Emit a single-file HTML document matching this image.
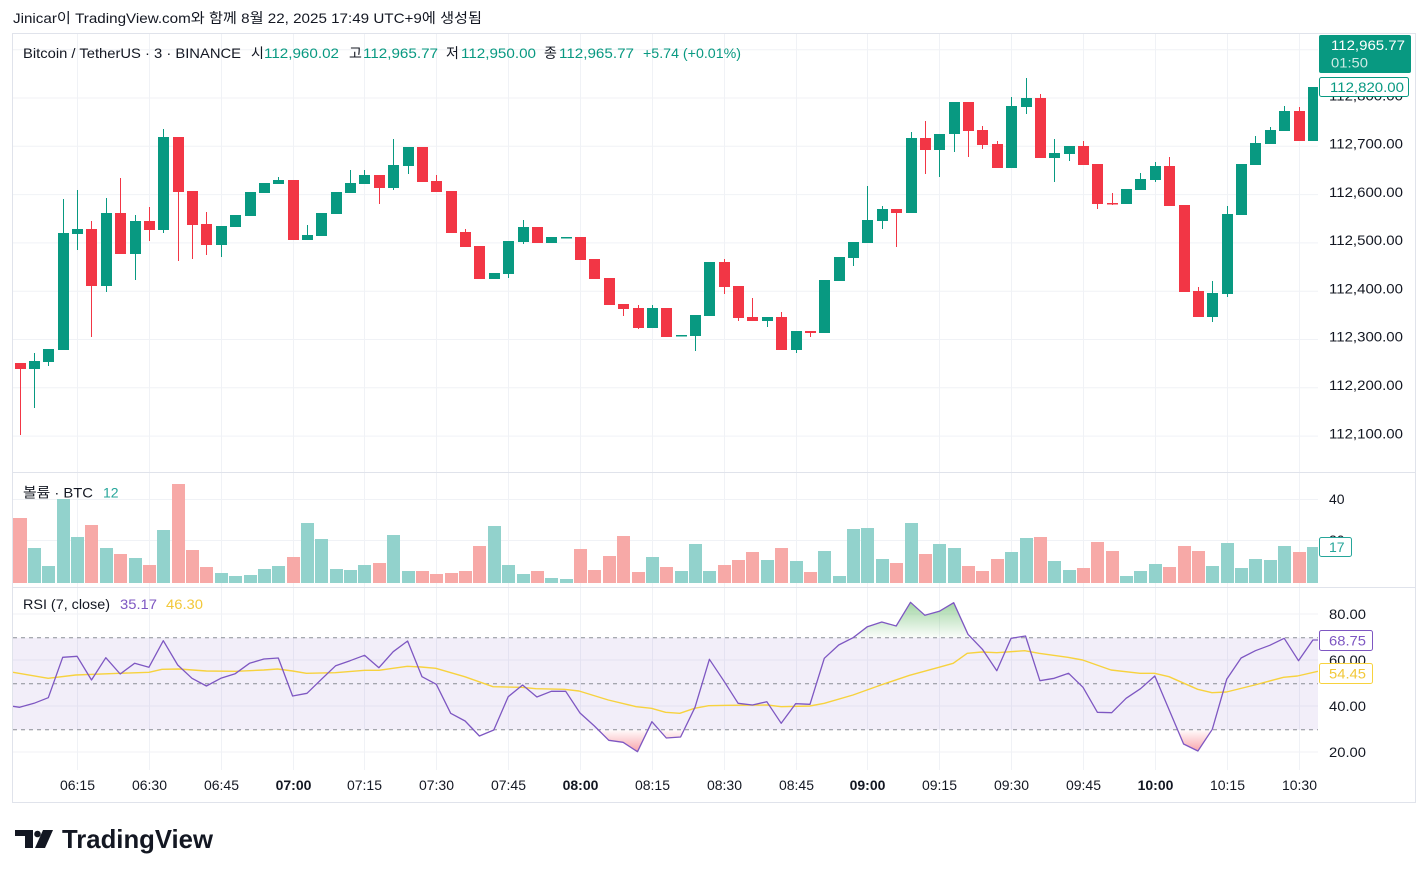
<!DOCTYPE html>
<html><head><meta charset="utf-8">
<style>
body{margin:0;background:#fff}
svg{display:block}
text{font-family:"Liberation Sans","Noto Sans CJK KR",sans-serif;font-size:14px;fill:#131722}
</style></head><body>
<svg width="1428" height="878" viewBox="0 0 1428 878" xmlns="http://www.w3.org/2000/svg">
<defs>
<clipPath id="cm"><rect x="13" y="34" width="1305" height="438"/></clipPath>
<clipPath id="cv"><rect x="13" y="473" width="1305" height="114"/></clipPath>
<clipPath id="cr"><rect x="13" y="588" width="1305" height="182"/></clipPath>
<clipPath id="cob"><rect x="13" y="588" width="1305" height="49.7"/></clipPath>
<clipPath id="cos"><rect x="13" y="729.7" width="1305" height="40"/></clipPath>
<linearGradient id="gg" x1="0" y1="600" x2="0" y2="638" gradientUnits="userSpaceOnUse">
<stop offset="0" stop-color="#4caf50" stop-opacity="0.55"/><stop offset="1" stop-color="#4caf50" stop-opacity="0.02"/></linearGradient>
<linearGradient id="gr" x1="0" y1="730" x2="0" y2="754" gradientUnits="userSpaceOnUse">
<stop offset="0" stop-color="#f23645" stop-opacity="0.02"/><stop offset="1" stop-color="#f23645" stop-opacity="0.5"/></linearGradient>
</defs>
<rect width="1428" height="878" fill="#fff"/>

<text x="13" y="23" textLength="469" lengthAdjust="spacingAndGlyphs">Jinicar이 TradingView.com와 함께 8월 22, 2025 17:49 UTC+9에 생성됨</text>

<!-- grid -->
<path fill="none" stroke="#f0f2f6" stroke-width="1" d="M77.5 34V770M149.5 34V770M221.5 34V770M293.5 34V770M364.5 34V770M436.5 34V770M508.5 34V770M580.5 34V770M652.5 34V770M724.5 34V770M796.5 34V770M867.5 34V770M939.5 34V770M1011.5 34V770M1083.5 34V770M1155.5 34V770M1227.5 34V770M1299.5 34V770
M13 49.7H1318M13 98H1318M13 146.3H1318M13 194.6H1318M13 242.9H1318M13 291.2H1318M13 339.5H1318M13 387.8H1318M13 436.1H1318
M13 499.5H1318M13 540.5H1318M13 614H1318M13 660H1318M13 706H1318M13 752H1318"/>

<!-- separators & border -->
<path fill="none" stroke="#e0e3eb" d="M13 472.5H1416M13 587.5H1416"/>
<rect x="12.5" y="33.5" width="1403" height="769" fill="none" stroke="#e0e3eb"/>

<!-- candles -->
<g clip-path="url(#cm)">
<g fill="#089981">
<rect x="34" y="353" width="1" height="55"/><rect x="29" y="361" width="11" height="8"/>
<rect x="48" y="349" width="1" height="17"/><rect x="43" y="349" width="11" height="13"/>
<rect x="63" y="199" width="1" height="151"/><rect x="58" y="233" width="11" height="117"/>
<rect x="77" y="190" width="1" height="60"/><rect x="72" y="229" width="11" height="5"/>
<rect x="106" y="198" width="1" height="94"/><rect x="101" y="213" width="11" height="73"/>
<rect x="135" y="215" width="1" height="65"/><rect x="130" y="221" width="11" height="33"/>
<rect x="163" y="129" width="1" height="104"/><rect x="158" y="137" width="11" height="93"/>
<rect x="221" y="226" width="1" height="31"/><rect x="216" y="226" width="11" height="19"/>
<rect x="230" y="215" width="11" height="12"/>
<rect x="245" y="192" width="11" height="24"/>
<rect x="259" y="183" width="11" height="10"/>
<rect x="278" y="177" width="1" height="7"/><rect x="273" y="180" width="11" height="4"/>
<rect x="307" y="225" width="1" height="15"/><rect x="302" y="235" width="11" height="5"/>
<rect x="316" y="213" width="11" height="23"/>
<rect x="331" y="192" width="11" height="22"/>
<rect x="350" y="170" width="1" height="23"/><rect x="345" y="183" width="11" height="10"/>
<rect x="364" y="170" width="1" height="14"/><rect x="359" y="175" width="11" height="9"/>
<rect x="393" y="139" width="1" height="51"/><rect x="388" y="165" width="11" height="23"/>
<rect x="408" y="147" width="1" height="27"/><rect x="403" y="147" width="11" height="19"/>
<rect x="489" y="273" width="11" height="6"/>
<rect x="508" y="241" width="1" height="37"/><rect x="503" y="241" width="11" height="33"/>
<rect x="523" y="220" width="1" height="24"/><rect x="518" y="227" width="11" height="15"/>
<rect x="546" y="237" width="11" height="6"/>
<rect x="561" y="237" width="11" height="1.5"/>
<rect x="652" y="305" width="1" height="23"/><rect x="647" y="308" width="11" height="20"/>
<rect x="676" y="335" width="11" height="1.5"/>
<rect x="695" y="315" width="1" height="36"/><rect x="690" y="315" width="11" height="21"/>
<rect x="704" y="262" width="11" height="54"/>
<rect x="767" y="317" width="1" height="10"/><rect x="762" y="317" width="11" height="4"/>
<rect x="796" y="331" width="1" height="22"/><rect x="791" y="331" width="11" height="19"/>
<rect x="819" y="280" width="11" height="53"/>
<rect x="834" y="257" width="11" height="24"/>
<rect x="853" y="242" width="1" height="24"/><rect x="848" y="242" width="11" height="16"/>
<rect x="867" y="186" width="1" height="57"/><rect x="862" y="220" width="11" height="23"/>
<rect x="882" y="206" width="1" height="23"/><rect x="877" y="209" width="11" height="12"/>
<rect x="911" y="132" width="1" height="81"/><rect x="906" y="138" width="11" height="75"/>
<rect x="939" y="134" width="1" height="43"/><rect x="934" y="134" width="11" height="16"/>
<rect x="954" y="102" width="1" height="50"/><rect x="949" y="102" width="11" height="32"/>
<rect x="1011" y="97" width="1" height="71"/><rect x="1006" y="106" width="11" height="62"/>
<rect x="1026" y="78" width="1" height="36"/><rect x="1021" y="98" width="11" height="9"/>
<rect x="1054" y="139" width="1" height="43"/><rect x="1049" y="153" width="11" height="5"/>
<rect x="1069" y="146" width="1" height="15"/><rect x="1064" y="146" width="11" height="8"/>
<rect x="1121" y="189" width="11" height="15"/>
<rect x="1140" y="173" width="1" height="17"/><rect x="1135" y="179" width="11" height="11"/>
<rect x="1155" y="162" width="1" height="20"/><rect x="1150" y="166" width="11" height="14"/>
<rect x="1212" y="281" width="1" height="41"/><rect x="1207" y="293" width="11" height="24"/>
<rect x="1227" y="206" width="1" height="91"/><rect x="1222" y="214" width="11" height="80"/>
<rect x="1236" y="164" width="11" height="51"/>
<rect x="1255" y="136" width="1" height="29"/><rect x="1250" y="143" width="11" height="22"/>
<rect x="1270" y="127" width="1" height="17"/><rect x="1265" y="130" width="11" height="14"/>
<rect x="1284" y="106" width="1" height="25"/><rect x="1279" y="111" width="11" height="20"/>
<rect x="1308" y="87" width="11" height="54"/>
</g>
<g fill="#f23645">
<rect x="20" y="363" width="1" height="72"/><rect x="15" y="363" width="11" height="6"/>
<rect x="91" y="221" width="1" height="116"/><rect x="86" y="229" width="11" height="57"/>
<rect x="120" y="178" width="1" height="76"/><rect x="115" y="213" width="11" height="41"/>
<rect x="149" y="207" width="1" height="34"/><rect x="144" y="221" width="11" height="9"/>
<rect x="178" y="137" width="1" height="124"/><rect x="173" y="137" width="11" height="55"/>
<rect x="192" y="191" width="1" height="68"/><rect x="187" y="191" width="11" height="34"/>
<rect x="206" y="212" width="1" height="43"/><rect x="201" y="224" width="11" height="21"/>
<rect x="288" y="180" width="11" height="60"/>
<rect x="379" y="175" width="1" height="29"/><rect x="374" y="175" width="11" height="13"/>
<rect x="417" y="147" width="11" height="35"/>
<rect x="436" y="175" width="1" height="17"/><rect x="431" y="181" width="11" height="11"/>
<rect x="446" y="191" width="11" height="42"/>
<rect x="465" y="229" width="1" height="18"/><rect x="460" y="232" width="11" height="15"/>
<rect x="474" y="246" width="11" height="33"/>
<rect x="532" y="227" width="11" height="16"/>
<rect x="575" y="237" width="11" height="23"/>
<rect x="589" y="259" width="11" height="20"/>
<rect x="604" y="278" width="11" height="27"/>
<rect x="623" y="304" width="1" height="12"/><rect x="618" y="304" width="11" height="5"/>
<rect x="638" y="305" width="1" height="24"/><rect x="633" y="308" width="11" height="20"/>
<rect x="661" y="308" width="11" height="29"/>
<rect x="724" y="259" width="1" height="35"/><rect x="719" y="262" width="11" height="25"/>
<rect x="738" y="286" width="1" height="35"/><rect x="733" y="286" width="11" height="32"/>
<rect x="752" y="298" width="1" height="23"/><rect x="747" y="317" width="11" height="4"/>
<rect x="781" y="312" width="1" height="38"/><rect x="776" y="317" width="11" height="33"/>
<rect x="810" y="331" width="1" height="6"/><rect x="805" y="331" width="11" height="2"/>
<rect x="896" y="209" width="1" height="38"/><rect x="891" y="209" width="11" height="4"/>
<rect x="925" y="121" width="1" height="53"/><rect x="920" y="138" width="11" height="12"/>
<rect x="968" y="102" width="1" height="55"/><rect x="963" y="102" width="11" height="29"/>
<rect x="982" y="126" width="1" height="23"/><rect x="977" y="130" width="11" height="15"/>
<rect x="997" y="141" width="1" height="27"/><rect x="992" y="144" width="11" height="24"/>
<rect x="1040" y="94" width="1" height="64"/><rect x="1035" y="98" width="11" height="60"/>
<rect x="1083" y="141" width="1" height="24"/><rect x="1078" y="146" width="11" height="19"/>
<rect x="1097" y="164" width="1" height="45"/><rect x="1092" y="164" width="11" height="40"/>
<rect x="1112" y="193" width="1" height="12"/><rect x="1107" y="203" width="11" height="1.5"/>
<rect x="1169" y="157" width="1" height="49"/><rect x="1164" y="166" width="11" height="40"/>
<rect x="1179" y="205" width="11" height="87"/>
<rect x="1198" y="287" width="1" height="30"/><rect x="1193" y="291" width="11" height="26"/>
<rect x="1299" y="107" width="1" height="34"/><rect x="1294" y="111" width="11" height="30"/>
</g>
</g>

<!-- volume -->
<g clip-path="url(#cv)">
<g fill="#92d2cc">
<rect x="28" y="548" width="13" height="35"/><rect x="42" y="566" width="13" height="17"/><rect x="57" y="499" width="13" height="84"/><rect x="71" y="537" width="13" height="46"/><rect x="100" y="548" width="13" height="35"/><rect x="129" y="558" width="13" height="25"/><rect x="157" y="530" width="13" height="53"/><rect x="215" y="573" width="13" height="10"/><rect x="229" y="576" width="13" height="7"/><rect x="244" y="575" width="13" height="8"/><rect x="258" y="569" width="13" height="14"/><rect x="272" y="566" width="13" height="17"/><rect x="301" y="523" width="13" height="60"/><rect x="315" y="539" width="13" height="44"/><rect x="330" y="569" width="13" height="14"/><rect x="344" y="570" width="13" height="13"/><rect x="358" y="565" width="13" height="18"/><rect x="387" y="535" width="13" height="48"/><rect x="402" y="571" width="13" height="12"/><rect x="488" y="526" width="13" height="57"/><rect x="502" y="565" width="13" height="18"/><rect x="517" y="574" width="13" height="9"/><rect x="545" y="578" width="13" height="5"/><rect x="560" y="579" width="13" height="4"/><rect x="646" y="557" width="13" height="26"/><rect x="675" y="571" width="13" height="12"/><rect x="689" y="544" width="13" height="39"/><rect x="703" y="571" width="13" height="12"/><rect x="761" y="560" width="13" height="23"/><rect x="790" y="561" width="13" height="22"/><rect x="818" y="551" width="13" height="32"/><rect x="833" y="576" width="13" height="7"/><rect x="847" y="529" width="13" height="54"/><rect x="861" y="528" width="13" height="55"/><rect x="876" y="559" width="13" height="24"/><rect x="905" y="523" width="13" height="60"/><rect x="933" y="544" width="13" height="39"/><rect x="948" y="548" width="13" height="35"/><rect x="1005" y="552" width="13" height="31"/><rect x="1020" y="538" width="13" height="45"/><rect x="1048" y="561" width="13" height="22"/><rect x="1063" y="570" width="13" height="13"/><rect x="1120" y="576" width="13" height="7"/><rect x="1134" y="571" width="13" height="12"/><rect x="1149" y="564" width="13" height="19"/><rect x="1206" y="566" width="13" height="17"/><rect x="1221" y="543" width="13" height="40"/><rect x="1235" y="568" width="13" height="15"/><rect x="1249" y="559" width="13" height="24"/><rect x="1264" y="560" width="13" height="23"/><rect x="1278" y="546" width="13" height="37"/><rect x="1307" y="547" width="13" height="36"/>
</g>
<g fill="#f7a9a7">
<rect x="13" y="518" width="14" height="65"/><rect x="85" y="525" width="13" height="58"/><rect x="114" y="554" width="13" height="29"/><rect x="143" y="565" width="13" height="18"/><rect x="172" y="484" width="13" height="99"/><rect x="186" y="550" width="13" height="33"/><rect x="200" y="567" width="13" height="16"/><rect x="287" y="557" width="13" height="26"/><rect x="373" y="563" width="13" height="20"/><rect x="416" y="571" width="13" height="12"/><rect x="430" y="574" width="13" height="9"/><rect x="445" y="573" width="13" height="10"/><rect x="459" y="571" width="13" height="12"/><rect x="473" y="546" width="13" height="37"/><rect x="531" y="571" width="13" height="12"/><rect x="574" y="549" width="13" height="34"/><rect x="588" y="570" width="13" height="13"/><rect x="603" y="556" width="13" height="27"/><rect x="617" y="536" width="13" height="47"/><rect x="632" y="572" width="13" height="11"/><rect x="660" y="567" width="13" height="16"/><rect x="718" y="565" width="13" height="18"/><rect x="732" y="560" width="13" height="23"/><rect x="746" y="552" width="13" height="31"/><rect x="775" y="548" width="13" height="35"/><rect x="804" y="572" width="13" height="11"/><rect x="890" y="563" width="13" height="20"/><rect x="919" y="554" width="13" height="29"/><rect x="962" y="566" width="13" height="17"/><rect x="976" y="571" width="13" height="12"/><rect x="991" y="559" width="13" height="24"/><rect x="1034" y="537" width="13" height="46"/><rect x="1077" y="568" width="13" height="15"/><rect x="1091" y="542" width="13" height="41"/><rect x="1106" y="551" width="13" height="32"/><rect x="1163" y="567" width="13" height="16"/><rect x="1178" y="546" width="13" height="37"/><rect x="1192" y="551" width="13" height="32"/><rect x="1293" y="552" width="13" height="31"/>
</g>
</g>

<!-- RSI -->
<g clip-path="url(#cr)">
<rect x="13" y="637.7" width="1305" height="92" fill="#7e57c2" fill-opacity="0.1"/>
<path fill="none" stroke="#8a8d96" stroke-width="1" stroke-dasharray="4,4" d="M13 637.7H1318M13 683.7H1318M13 729.7H1318"/>
<g clip-path="url(#cob)"><polygon fill="url(#gg)" points="13,637.7 824.3,637.7 824.3,658.3 838.7,645 853.1,637.7 867.4,626.7 881.8,622 896.2,626 910.5,602.3 924.9,615.3 939.3,611.3 953.7,602.7 968,634.3 982.4,649.3 996.8,670.7 1011.1,638.3 1025.5,636 1039.9,680.7 1284.2,638.3 1298.5,660.7 1312.9,640 1318,640 1318,637.7"/></g>
<g clip-path="url(#cos)"><polygon fill="url(#gr)" points="565.7,729.7 565.7,691.3 580,713 594.4,726 608.8,740.3 623.1,742.3 637.5,751.7 651.9,721.7 666.3,738 680.6,737 695,707.3 695,729.7 1154.8,729.7 1154.8,676 1169.2,710 1183.6,744 1197.9,751 1212.3,729.3 1226.7,679.3 1226.7,729.7"/></g>
<polyline fill="none" stroke="#f7d23e" stroke-width="1.4" stroke-linejoin="round" points="13,672.3 48.2,678.3 75.7,675 119.3,673.3 149,672.3 162,669.3 179,669 206.4,671 235.8,671.3 263.8,670 277.5,669 292.7,671 306.4,673.3 335.3,672.7 364.7,670.3 379,670.3 393,668.3 407.3,666.3 421,667 435.8,668.3 464.7,676.7 493,686.7 521.6,687.3 535.8,688.7 564.2,689.3 579,691 608.3,700 636.2,706.7 651.4,708.3 665.6,712.3 679.8,713.3 694.5,708.3 708.7,705.7 727.8,705.3 767.3,705 781.2,706.7 809.9,706 824.3,703.3 853,695 880.9,685 909.6,675.3 938.9,667.3 953.2,663.3 967.2,653.3 982,652 996.8,652.7 1024.7,650.7 1039,653.3 1067.8,657.3 1082.6,660 1111,670 1140,673.3 1154.5,673.3 1169,676.7 1197.7,689.3 1212,692.7 1226.4,692 1254.7,685 1283.5,677.3 1297.4,676 1318,671.3"/>
<polyline fill="none" stroke="#7e57c2" stroke-width="1.3" stroke-linejoin="round" points="13,706.3 19.6,707.3 34,703.3 48.3,697.7 62.7,657.3 77.1,656.3 91.5,680 105.8,657.7 120.2,674 134.6,663.3 148.9,667.3 163.3,640.7 177.7,665 192,678.3 206.4,686 220.8,678.3 235.2,673.7 249.5,663.3 263.9,659 278.3,658 292.6,696 307,693.3 321.4,679.3 335.7,665.7 350.1,660.7 364.5,655.3 378.9,667.7 393.2,651.7 407.6,641 422,676.7 436.3,684.3 450.7,713.3 465.1,721 479.4,736 493.8,730 508.2,696.7 522.6,685 536.9,697 551.3,691.3 565.7,691.3 580,713 594.4,726 608.8,740.3 623.1,742.3 637.5,751.7 651.9,721.7 666.3,738 680.6,737 695,707.3 709.4,659.3 723.7,680.7 738.1,703.3 752.5,705 766.8,701.7 781.2,723.3 795.6,703.7 810,704.3 824.3,658.3 838.7,645 853.1,637.7 867.4,626.7 881.8,622 896.2,626 910.5,602.3 924.9,615.3 939.3,611.3 953.7,602.7 968,634.3 982.4,649.3 996.8,670.7 1011.1,638.3 1025.5,636 1039.9,680.7 1054.2,678.3 1068.6,673.3 1083,687.3 1097.4,712.3 1111.7,712.7 1126.1,698.3 1140.5,688.7 1154.8,676 1169.2,710 1183.6,744 1197.9,751 1212.3,729.3 1226.7,679.3 1241.1,658 1255.4,650.7 1269.8,645.3 1284.2,638.3 1298.5,660.7 1312.9,640 1318,640"/>
</g>

<!-- legends -->
<text x="23" y="58" textLength="218" lengthAdjust="spacingAndGlyphs">Bitcoin / TetherUS · 3 · BINANCE</text>
<text x="251" y="58">시</text><text x="264" y="58" textLength="75" lengthAdjust="spacingAndGlyphs" style="fill:#089981">112,960.02</text>
<text x="349" y="58">고</text><text x="363" y="58" textLength="75" lengthAdjust="spacingAndGlyphs" style="fill:#089981">112,965.77</text>
<text x="446" y="58">저</text><text x="461" y="58" textLength="75" lengthAdjust="spacingAndGlyphs" style="fill:#089981">112,950.00</text>
<text x="544" y="58">종</text><text x="559" y="58" textLength="75" lengthAdjust="spacingAndGlyphs" style="fill:#089981">112,965.77</text>
<text x="643" y="58" textLength="98" lengthAdjust="spacingAndGlyphs" style="fill:#089981">+5.74 (+0.01%)</text>

<text x="23" y="497.5" textLength="70" lengthAdjust="spacingAndGlyphs">볼륨 · BTC</text>
<text x="103" y="497.5" style="fill:#26a69a">12</text>

<text x="23" y="609" textLength="87" lengthAdjust="spacingAndGlyphs">RSI (7, close)</text>
<text x="120" y="609" textLength="37" lengthAdjust="spacingAndGlyphs" style="fill:#7e57c2">35.17</text>
<text x="166" y="609" textLength="37" lengthAdjust="spacingAndGlyphs" style="fill:#f2c83a">46.30</text>

<!-- price axis -->
<g>
<text x="1329" y="100.5" textLength="74" lengthAdjust="spacingAndGlyphs">112,800.00</text>
<text x="1329" y="148.5" textLength="74" lengthAdjust="spacingAndGlyphs">112,700.00</text>
<text x="1329" y="196.8" textLength="74" lengthAdjust="spacingAndGlyphs">112,600.00</text>
<text x="1329" y="245.1" textLength="74" lengthAdjust="spacingAndGlyphs">112,500.00</text>
<text x="1329" y="293.4" textLength="74" lengthAdjust="spacingAndGlyphs">112,400.00</text>
<text x="1329" y="341.7" textLength="74" lengthAdjust="spacingAndGlyphs">112,300.00</text>
<text x="1329" y="390" textLength="74" lengthAdjust="spacingAndGlyphs">112,200.00</text>
<text x="1329" y="438.3" textLength="74" lengthAdjust="spacingAndGlyphs">112,100.00</text>
</g>
<rect x="1319" y="35" width="92" height="38" rx="2" fill="#089981"/>
<text x="1331" y="50" textLength="74" lengthAdjust="spacingAndGlyphs" style="fill:#fff">112,965.77</text>
<text x="1331" y="67.5" textLength="37" lengthAdjust="spacingAndGlyphs" style="fill:#fff;fill-opacity:0.8">01:50</text>
<rect x="1319.5" y="77.5" width="89" height="19" rx="2" fill="#fff" stroke="#089981"/>
<text x="1330" y="92" textLength="74" lengthAdjust="spacingAndGlyphs" style="fill:#089981">112,820.00</text>

<!-- volume axis -->
<text x="1329" y="504">40</text>
<text x="1329" y="545">20</text>
<rect x="1319.5" y="537.5" width="32" height="19" rx="2" fill="#fff" stroke="#26a69a"/>
<text x="1329" y="552" style="fill:#26a69a">17</text>

<!-- RSI axis -->
<text x="1329" y="619" textLength="37" lengthAdjust="spacingAndGlyphs">80.00</text>
<text x="1329" y="665" textLength="37" lengthAdjust="spacingAndGlyphs">60.00</text>
<text x="1329" y="711" textLength="37" lengthAdjust="spacingAndGlyphs">40.00</text>
<text x="1329" y="757" textLength="37" lengthAdjust="spacingAndGlyphs">20.00</text>
<rect x="1319.5" y="630.5" width="53" height="20" rx="2" fill="#fff" stroke="#7e57c2"/>
<text x="1329" y="645.5" textLength="37" lengthAdjust="spacingAndGlyphs" style="fill:#7e57c2">68.75</text>
<rect x="1319.5" y="663.5" width="53" height="20" rx="2" fill="#fff" stroke="#f7d23e"/>
<text x="1329" y="678.5" textLength="37" lengthAdjust="spacingAndGlyphs" style="fill:#f2c83a">54.45</text>

<!-- time axis -->
<g text-anchor="middle">
<text x="77.5" y="790">06:15</text>
<text x="149.5" y="790">06:30</text>
<text x="221.5" y="790">06:45</text>
<text x="293.5" y="790" font-weight="bold">07:00</text>
<text x="364.5" y="790">07:15</text>
<text x="436.5" y="790">07:30</text>
<text x="508.5" y="790">07:45</text>
<text x="580.5" y="790" font-weight="bold">08:00</text>
<text x="652.5" y="790">08:15</text>
<text x="724.5" y="790">08:30</text>
<text x="796.5" y="790">08:45</text>
<text x="867.5" y="790" font-weight="bold">09:00</text>
<text x="939.5" y="790">09:15</text>
<text x="1011.5" y="790">09:30</text>
<text x="1083.5" y="790">09:45</text>
<text x="1155.5" y="790" font-weight="bold">10:00</text>
<text x="1227.5" y="790">10:15</text>
<text x="1299.5" y="790">10:30</text>
</g>

<!-- logo -->
<g fill="#131722">
<path d="M15 830h18v18h-8v-12h-10z"/>
<circle cx="37.5" cy="834" r="3.3"/>
<path d="M43 830h10l-8 18h-10z"/>
</g>
<text x="62" y="848" textLength="151" lengthAdjust="spacingAndGlyphs" style="font-size:26px;font-weight:bold">TradingView</text>
</svg>
</body></html>
